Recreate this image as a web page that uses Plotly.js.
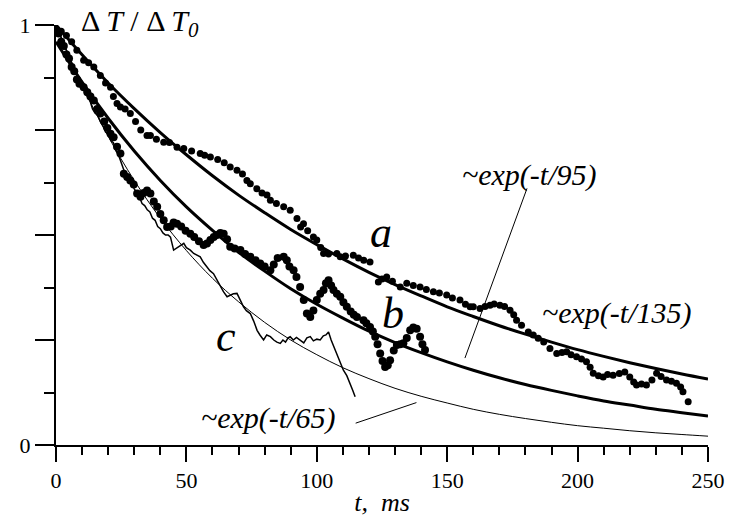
<!DOCTYPE html>
<html>
<head>
<meta charset="utf-8">
<script src="https://cdn.plot.ly/plotly-3.0.1.min.js"></script>
<style>
html,body{margin:0;padding:0;background:#fff;}
#chart{width:733px;height:520px;}
</style>
</head>
<body>
<div id="chart"></div>
<script>
const fitT = [0,10,20,30,40,50,60,70,80,90,100,110,120,130,140,150,160,170,180,190,200,210,220,230,240,250];
const fitA135 = [1,0.929,0.862,0.801,0.744,0.691,0.641,0.595,0.553,0.513,0.477,0.443,0.411,0.382,0.355,0.329,0.306,0.284,0.264,0.245,0.227,0.211,0.196,0.182,0.169,0.157];
const fitB95 = [0.96,0.864,0.778,0.700,0.630,0.567,0.511,0.459,0.414,0.372,0.335,0.302,0.271,0.244,0.220,0.198,0.178,0.160,0.144,0.130,0.117,0.105,0.095,0.085,0.077,0.069];
const fitC65 = [1,0.857,0.735,0.630,0.540,0.463,0.397,0.341,0.292,0.250,0.215,0.184,0.158,0.135,0.116,0.100,0.085,0.073,0.063,0.054,0.046,0.040,0.034,0.029,0.025,0.021];

// ---- measured series a (dots) ----
const aT = [0,2,4,6,8,10.6,12.5,14.5,17,19,20.9,22,23.4,24.7,26.5,28.5,30.5,32.5,34.9,36.2,38.5,41.3,43.5,46.4,49,52,55.3,57,59.2,62,64.5,66.8,69.4,71.5,73.2,74.5,77,79,80.9,82.2,84.5,87.3,89.8,92.4,93.8,94.9,96.5,98.7,100,101.5,102.6,104.5,107.7,109,111,114,116,118,120.4,123.6,125,126.8,129,132,134.5,137,139.6,142,144.7,147,149.8,152,154.9,157,158.8,160,162.6,164.5,166.4,168,170.2,172,174.1,175.5,176.6,178.5,181.1,183,184.9,187,189.4,192,194,195.8,197.5,199.6,201.5,203.4,204.8,206,208,209.8,211.5,213.6,216,218.1,220,221.5,222.6,224.5,226.4,228.5,230.3,232,234.1,236,237.9,239.5,240.4,242.4];
const aV = [0.99,0.985,0.975,0.96,0.94,0.916,0.91,0.9,0.88,0.862,0.852,0.83,0.813,0.805,0.8,0.789,0.77,0.75,0.737,0.737,0.728,0.721,0.72,0.709,0.706,0.7,0.694,0.69,0.686,0.68,0.672,0.662,0.654,0.645,0.63,0.622,0.61,0.6,0.595,0.583,0.575,0.567,0.559,0.539,0.519,0.527,0.51,0.495,0.488,0.47,0.456,0.455,0.456,0.448,0.45,0.452,0.445,0.44,0.436,0.388,0.395,0.4,0.39,0.376,0.385,0.38,0.376,0.37,0.365,0.362,0.357,0.35,0.345,0.335,0.329,0.329,0.325,0.33,0.333,0.336,0.333,0.33,0.321,0.31,0.297,0.285,0.269,0.262,0.254,0.245,0.23,0.218,0.22,0.222,0.215,0.21,0.205,0.198,0.185,0.171,0.165,0.162,0.168,0.166,0.17,0.174,0.162,0.15,0.143,0.145,0.143,0.155,0.171,0.163,0.155,0.152,0.147,0.138,0.127,0.103];

// ---- measured series b (dots) ----
const bT = [0,1,2,3,4,5,6,7,8,9,10.6,12,13.2,14.5,15.8,17,18.5,19.7,20.9,22.1,23.4,24.7,26,27.3,28.5,29.8,31.1,32.4,33.6,34.9,36.2,37.5,38.8,40,41.3,42.6,44,45.1,46.4,48,49.7,51.5,53,54.8,56.6,57.9,59.2,60.5,61.7,63,64.3,65.6,66.8,68.5,70.7,72.5,74.5,76.5,78.3,80,82.2,83.5,85,87.3,88.5,89.5,91.1,92.2,93.6,95,96.2,97.5,98.7,100,101.3,102.6,103.5,104.5,105.5,106.4,107.7,109,110.2,111.5,113,114.2,115.4,117.9,119,120.4,121.5,122.4,123.3,124.3,125.2,126.2,127.2,128.1,129.5,130.7,132,133.2,134.5,135.8,137,138.3,139.6,140.5,141.5];
const bV = [0.99,0.98,0.96,0.95,0.93,0.92,0.9,0.89,0.87,0.86,0.852,0.84,0.83,0.82,0.8,0.789,0.77,0.755,0.741,0.733,0.71,0.694,0.646,0.638,0.63,0.62,0.599,0.591,0.6,0.606,0.599,0.58,0.567,0.55,0.535,0.519,0.52,0.53,0.527,0.52,0.51,0.503,0.495,0.485,0.476,0.48,0.488,0.495,0.5,0.505,0.503,0.49,0.472,0.468,0.464,0.455,0.448,0.44,0.432,0.425,0.416,0.43,0.445,0.448,0.44,0.425,0.416,0.4,0.376,0.345,0.313,0.305,0.32,0.345,0.36,0.369,0.385,0.392,0.38,0.369,0.36,0.353,0.34,0.329,0.318,0.31,0.305,0.297,0.29,0.281,0.27,0.258,0.24,0.218,0.2,0.186,0.19,0.202,0.225,0.238,0.24,0.242,0.255,0.273,0.28,0.277,0.258,0.24,0.226];

// ---- measured series c (thin line) ----
const cT = [0,1,2,3,4,5,6,7,8,9,10,11,12,13,14,15,16,17,18,19,20,21,22,23,24,25,26,27,28,29,30,31,32,33,34,35,36,37,38,39,40,41,42,43,43.9,45.1,46.4,47.5,49,50,51.5,52.8,54,55.3,56.5,57.9,59,60.4,61.7,63,64.2,65.6,67,68,69.4,70.5,71.9,73,74.5,75.8,77.1,78.2,79.6,80.8,82.2,83.5,84.7,86,87,88,89,89.8,91,92.2,93.6,95,96.2,97.5,98.7,100,101.3,102.5,103.5,104.5,105.5,106.5,107.7,109,110.2,111.5,112.8,113.8,114.7];
const cV = [1,0.98,0.97,0.945,0.94,0.92,0.91,0.89,0.885,0.86,0.855,0.84,0.83,0.82,0.8,0.79,0.785,0.77,0.76,0.745,0.74,0.725,0.72,0.7,0.69,0.67,0.655,0.645,0.63,0.625,0.61,0.6,0.59,0.575,0.57,0.56,0.555,0.54,0.535,0.52,0.515,0.505,0.5,0.5,0.495,0.464,0.47,0.475,0.48,0.47,0.464,0.456,0.452,0.448,0.435,0.424,0.415,0.408,0.392,0.376,0.365,0.353,0.357,0.36,0.361,0.345,0.329,0.32,0.313,0.295,0.273,0.262,0.25,0.262,0.258,0.25,0.245,0.242,0.25,0.245,0.255,0.258,0.25,0.256,0.25,0.243,0.255,0.258,0.248,0.252,0.25,0.26,0.262,0.269,0.25,0.235,0.218,0.198,0.178,0.165,0.147,0.13,0.115];

// ---- leader lines for the fit labels ----
const lead95T = [180.6,156.8];
const lead95V = [0.611,0.207];
const lead65T = [114.9,138.2];
const lead65V = [0.052,0.101];

// ---- axis ticks ----
const xTickVals = [0,50,100,150,200,250];
const xTickText = ['0','50','100','150','200','250'];
const yTickVals = [0,0.25,0.5,0.75,1];
const yTickText = ['0','','','','1'];

const FAM = 'Liberation Serif, Times New Roman, DejaVu Serif, serif';
const DELTA = '\u0394';

const traces = [
  {x: fitT, y: fitC65, mode: 'lines', line: {color: 'black', width: 1, shape: 'spline'}},
  {x: fitT, y: fitB95, mode: 'lines', line: {color: 'black', width: 3, shape: 'spline'}},
  {x: fitT, y: fitA135, mode: 'lines', line: {color: 'black', width: 3, shape: 'spline'}},
  {x: cT, y: cV, mode: 'lines', line: {color: 'black', width: 1.5}},
  {x: aT, y: aV, mode: 'markers', marker: {color: 'black', size: 7}},
  {x: bT, y: bV, mode: 'markers', marker: {color: 'black', size: 8}},
  {x: lead95T, y: lead95V, mode: 'lines', line: {color: 'black', width: 1}},
  {x: lead65T, y: lead65V, mode: 'lines', line: {color: 'black', width: 1}}
];

const layout = {
  width: 733, height: 520,
  margin: {l: 55.5, r: 25, t: 24.5, b: 75},
  showlegend: false,
  xaxis: {
    range: [0, 250], showgrid: false, zeroline: false,
    showline: true, linecolor: 'black', linewidth: 2,
    tickmode: 'array', tickvals: xTickVals, ticktext: xTickText,
    ticks: 'outside', ticklen: 15, tickwidth: 2, tickcolor: 'black',
    minor: {tickmode: 'linear', tick0: 0, dtick: 10, ticks: 'outside', ticklen: 8, tickwidth: 2, tickcolor: 'black'},
    tickfont: {family: FAM, size: 22, color: 'black'},
    title: {text: '<i>t,  ms</i>', font: {family: FAM, size: 26, color: 'black'}, standoff: 0}
  },
  yaxis: {
    range: [0, 1], showgrid: false, zeroline: false,
    showline: true, linecolor: 'black', linewidth: 2,
    tickmode: 'array', tickvals: yTickVals, ticktext: yTickText,
    ticks: 'outside', ticklen: 19, tickwidth: 2, tickcolor: 'black',
    minor: {tickmode: 'linear', tick0: 0, dtick: 0.125, ticks: 'outside', ticklen: 10, tickwidth: 2, tickcolor: 'black'},
    tickfont: {family: FAM, size: 22, color: 'black'}
  },
  annotations: [
    {xref: 'paper', yref: 'paper', x: 0.035, y: 1.004, xanchor: 'left', yanchor: 'middle', showarrow: false,
     text: DELTA + ' <i>T</i> / ' + DELTA + ' <i>T</i><sub><i>0</i></sub>', font: {family: FAM, size: 30, color: 'black'}},
    {x: 124.7, y: 0.507, text: '<i>a</i>', showarrow: false, font: {family: FAM, size: 44, color: 'black'}},
    {x: 129.3, y: 0.314, text: '<i>b</i>', showarrow: false, font: {family: FAM, size: 44, color: 'black'}},
    {x: 65, y: 0.259, text: '<i>c</i>', showarrow: false, font: {family: FAM, size: 44, color: 'black'}},
    {x: 181.7, y: 0.642, text: '<i>~exp(-t/95)</i>', showarrow: false, font: {family: FAM, size: 30, color: 'black'}},
    {x: 215, y: 0.314, text: '<i>~exp(-t/135)</i>', showarrow: false, font: {family: FAM, size: 30, color: 'black'}},
    {x: 81.4, y: 0.064, text: '<i>~exp(-t/65)</i>', showarrow: false, font: {family: FAM, size: 30, color: 'black'}}
  ]
};

Plotly.newPlot('chart', traces, layout, {staticPlot: true}).then(function (gd) {
  if (document.fonts && document.fonts.ready) {
    document.fonts.ready.then(function () { Plotly.relayout(gd, {}); });
  }
});
</script>
</body>
</html>
